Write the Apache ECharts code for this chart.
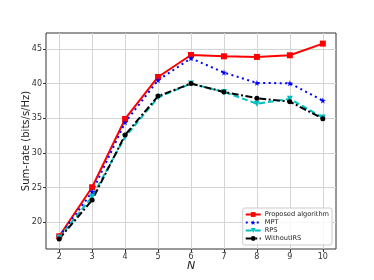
<!DOCTYPE html>
<html><head><meta charset="utf-8">
<script src="https://cdn.jsdelivr.net/npm/echarts@6/dist/echarts.min.js"></script>
<style>html,body{margin:0;padding:0;background:#fff}#c{width:374px;height:280px}</style>
</head><body><div id="c"></div>
<script>
var N = [2, 3, 4, 5, 6, 7, 8, 9, 10];
var proposed = [17.98, 25.05, 34.9, 40.96, 44.13, 43.94, 43.85, 44.09, 45.77];
var mpt = [17.9, 24.4, 34.4, 40.5, 43.65, 41.6, 40.1, 40.05, 37.55];
var rps = [17.8, 23.7, 32.3, 38.0, 40.0, 38.8, 37.1, 37.8, 35.1];
var withoutIRS = [17.6, 23.2, 32.6, 38.2, 40.0, 38.8, 37.9, 37.4, 34.95];
var xTicks = [2, 3, 4, 5, 6, 7, 8, 9, 10];
var yTicks = [20, 25, 30, 35, 40, 45];
var names = ['Proposed algorithm', 'MPT', 'RPS', 'WithoutIRS'];

function pts(v) { return N.map(function (n, i) { return [n, v[i]]; }); }
var star = 'path://M0,-10 L2.35,-3.24 L9.51,-3.09 L3.8,1.24 L5.88,8.09 L0,4 L-5.88,8.09 L-3.8,1.24 L-9.51,-3.09 L-2.35,-3.24 Z';
var font = 'DejaVu Sans';
var chart = echarts.init(document.getElementById('c'), null, {renderer: 'canvas'});
chart.setOption({
  animation: false,
  backgroundColor: '#fff',
  textStyle: {fontFamily: font},
  grid: {left: 46, right: 38, top: 33, bottom: 31, show: true, borderColor: '#333', borderWidth: 1, backgroundColor: 'transparent'},
  xAxis: {
    type: 'value', min: 1.6, max: 10.4,
    name: 'N', nameLocation: 'middle', nameGap: 12, nameMoveOverlap: false,
    nameTextStyle: {fontStyle: 'italic', fontSize: 11, color: '#222', fontFamily: font},
    axisLine: {show: false},
    axisTick: {show: true, inside: false, length: 3, customValues: xTicks, lineStyle: {color: '#333'}},
    axisLabel: {customValues: xTicks, fontSize: 8, color: '#333', margin: 4, fontFamily: font},
    splitLine: {show: true, lineStyle: {color: '#d4d4d4', width: 1}}
  },
  yAxis: {
    type: 'value', min: 16.15, max: 47.3,
    name: 'Sum-rate (bits/s/Hz)', nameLocation: 'middle', nameRotate: 90, nameGap: 15, nameMoveOverlap: false,
    nameTextStyle: {fontSize: 10, color: '#222', fontFamily: font},
    axisLine: {show: false},
    axisTick: {show: true, inside: false, length: 3, customValues: yTicks, lineStyle: {color: '#333'}},
    axisLabel: {customValues: yTicks, fontSize: 8, color: '#333', margin: 4, fontFamily: font},
    splitLine: {show: true, lineStyle: {color: '#d4d4d4', width: 1}}
  },
  legend: {
    orient: 'vertical', right: 42, bottom: 35,
    itemWidth: 15, itemHeight: 6, itemGap: 1,
    padding: [3, 3, 3, 2],
    borderColor: '#ccc', borderWidth: 1, borderRadius: 2,
    backgroundColor: 'rgba(255,255,255,0.8)',
    textStyle: {fontSize: 6.6, color: '#222', fontFamily: font, padding: [0, 0, 0, -1]},
    data: names
  },
  series: [
    {name: names[0], type: 'line', data: pts(proposed), color: '#ff0000',
     lineStyle: {width: 2, color: '#ff0000'}, symbol: 'rect', symbolSize: 6,
     itemStyle: {color: '#ff0000'}},
    {name: names[1], type: 'line', data: pts(mpt), color: '#0000ff',
     lineStyle: {width: 2, color: '#0000ff', type: [2, 3.5]}, symbol: star, symbolSize: 6,
     itemStyle: {color: '#0000ff'}},
    {name: names[2], type: 'line', data: pts(rps), color: '#00bfbf',
     lineStyle: {width: 2, color: '#00bfbf', type: [6, 3]}, symbol: 'triangle', symbolRotate: 180, symbolSize: 6,
     itemStyle: {color: '#00bfbf'}},
    {name: names[3], type: 'line', data: pts(withoutIRS), color: '#000000',
     lineStyle: {width: 2, color: '#000000', type: [7, 2.5, 2, 2.5]}, symbol: 'circle', symbolSize: 5,
     itemStyle: {color: '#000000'}}
  ]
});
</script></body></html>
